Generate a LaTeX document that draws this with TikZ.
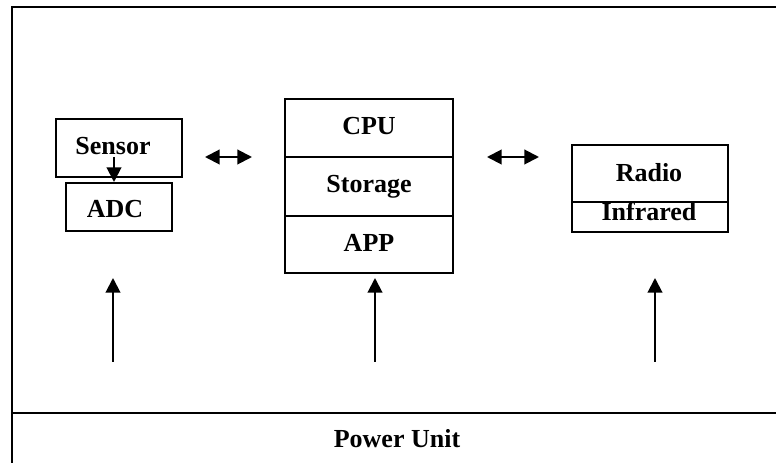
\documentclass[tikz,border=0pt]{standalone}
\usepackage{fontspec}
\setmainfont{Liberation Serif}
\usetikzlibrary{arrows.meta}
\begin{document}
\begin{tikzpicture}[x=0.75pt,y=-0.75pt,
  box/.style={draw, line width=1.5pt, inner sep=0pt},
  lbl/.style={anchor=base, inner sep=0pt, font=\fontsize{19.5pt}{20pt}\selectfont\bfseries},
  arr/.style={line width=1.5pt, -{Triangle[length=11pt,width=11pt]}},
  darr/.style={line width=1.5pt, {Triangle[length=11pt,width=11pt]}-{Triangle[length=11pt,width=11pt]}}]
\useasboundingbox (0,0) rectangle (776,463);
% outer frame (cropped on right and bottom)
\coordinate (otr) at (790,7);
\coordinate (otl) at (12,7);
\coordinate (obl) at (12,480);
\draw[line width=1.5pt] (otr) -- (otl) -- (obl);
\coordinate (pl) at (12,413);
\coordinate (pr) at (790,413);
\draw[line width=1.5pt] (pl) -- (pr);
% boxes
\node[box, minimum width=94.5pt, minimum height=43.5pt] (sensor) at (119,148) {};
\node[box, minimum width=79.5pt, minimum height=36pt] (adc) at (119,207) {};
\node[box, minimum width=126pt, minimum height=43.5pt] (cpu) at (369,128) {};
\node[box, minimum width=126pt, minimum height=44.25pt] (storage) at (369,186.5) {};
\node[box, minimum width=126pt, minimum height=42.75pt] (app) at (369,244.5) {};
\node[box, minimum width=117pt, minimum height=42.75pt] (radio) at (650,173.5) {};
\node[box, minimum width=117pt, minimum height=22.5pt] (infra) at (650,217) {};
% labels
\node[lbl] (tsensor) at (113,155) {Sensor};
\node[lbl] (tadc) at (115,218) {ADC};
\node[lbl] (tcpu) at (369,135) {CPU};
\node[lbl] (tstorage) at (369,193) {Storage};
\node[lbl] (tapp) at (369,252) {APP};
\node[lbl] (tradio) at (649,182) {Radio};
\node[lbl] (tinfra) at (649,221) {Infrared};
\node[lbl] (tpower) at (397,448) {Power Unit};
% sensor -> adc
\coordinate (sa) at (114,157);
\draw[arr] (sa) -- (adc.north -| sa);
% double arrows
\coordinate (d1a) at (205,157);
\coordinate (d1b) at (252,157);
\draw[darr] (d1a) -- (d1b);
\coordinate (d2a) at (487,157);
\coordinate (d2b) at (539,157);
\draw[darr] (d2a) -- (d2b);
% power arrows
\coordinate (p1a) at (113,362); \coordinate (p1b) at (113,278);
\coordinate (p2a) at (375,362); \coordinate (p2b) at (375,278);
\coordinate (p3a) at (655,362); \coordinate (p3b) at (655,278);
\draw[arr] (p1a) -- (p1b);
\draw[arr] (p2a) -- (p2b);
\draw[arr] (p3a) -- (p3b);
\end{tikzpicture}
\end{document}
